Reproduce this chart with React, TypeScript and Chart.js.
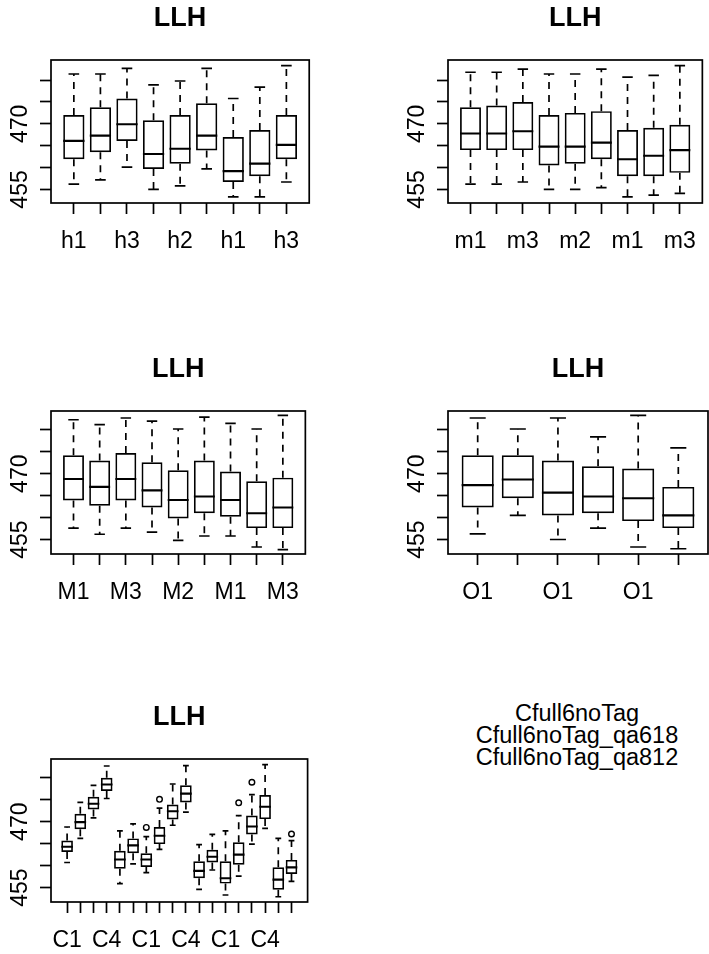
import React, { useEffect, useRef } from 'react';
import { Chart, registerables } from 'chart.js';

Chart.register(...registerables);

const FONT = "'Liberation Sans', Arial, Helvetica, sans-serif";

// ---------- Panel 1 : h ----------
const hLabels = ['h1', 'h2', 'h3', 'h1', 'h2', 'h3', 'h1', 'h2', 'h3'];
const hMax = [481.4, 481.4, 482.7, 478.9, 479.8, 482.7, 475.8, 478.4, 483.3];
const hQ3 = [472.0, 473.8, 475.8, 470.8, 472.0, 474.7, 467.0, 468.6, 472.0];
const hMed = [466.1, 467.3, 469.9, 463.1, 464.3, 467.3, 459.2, 460.9, 465.2];
const hQ1 = [461.9, 463.5, 466.1, 459.7, 460.9, 463.9, 456.7, 458.0, 461.9];
const hMin = [456.2, 457.2, 460.1, 455.0, 455.8, 459.7, 453.3, 453.3, 456.7];

// ---------- Panel 2 : m ----------
const mLabels = ['m1', 'm2', 'm3', 'm1', 'm2', 'm3', 'm1', 'm2', 'm3'];
const mMax = [481.8, 481.8, 482.5, 481.4, 481.4, 482.5, 480.7, 481.1, 483.3];
const mQ3 = [473.8, 474.2, 475.0, 472.0, 472.5, 472.9, 468.6, 469.1, 469.8];
const mMed = [467.8, 467.8, 468.3, 464.8, 464.8, 465.7, 461.9, 462.7, 464.0];
const mQ1 = [464.0, 464.0, 464.0, 460.5, 460.9, 461.9, 458.0, 458.0, 458.8];
const mMin = [456.2, 456.2, 456.7, 455.0, 455.0, 455.4, 453.3, 453.7, 454.1];

// ---------- Panel 3 : M ----------
const MLabels = ['M1', 'M2', 'M3', 'M1', 'M2', 'M3', 'M1', 'M2', 'M3'];
const MMax = [482.3, 481.2, 482.7, 482.0, 480.2, 482.9, 481.5, 480.2, 483.3];
const MQ3 = [474.2, 473.0, 474.7, 472.6, 470.8, 473.0, 470.5, 468.3, 469.1];
const MMed = [468.8, 467.0, 468.8, 466.2, 464.0, 464.8, 464.0, 461.0, 462.3];
const MQ1 = [463.9, 462.7, 463.9, 462.3, 459.8, 461.0, 460.2, 457.6, 457.6];
const MMin = [457.6, 456.2, 457.6, 456.7, 454.8, 455.8, 455.8, 453.3, 452.7];

// ---------- Panel 4 : O ----------
const OLabels = ['O1', 'O2', 'O1', 'O2', 'O1', 'O2'];
const OMax = [482.7, 480.2, 482.7, 478.4, 483.3, 475.9];
const OQ3 = [474.2, 474.2, 473.0, 471.7, 471.2, 467.0];
const OMed = [467.4, 468.7, 465.7, 464.8, 464.4, 460.5];
const OQ1 = [462.3, 464.4, 460.5, 461.0, 459.2, 457.6];
const OMin = [456.3, 460.5, 455.0, 457.6, 453.3, 452.9];

// ---------- Panel 5 : C ----------
const CLabels = [
  'C1', 'C2', 'C3', 'C4', 'C5', 'C6',
  'C1', 'C2', 'C3', 'C4', 'C5', 'C6',
  'C1', 'C2', 'C3', 'C4', 'C5', 'C6',
];
const CMax = [468.8, 474.4, 478.3, 482.7, 467.9, 469.5, 466.6, 473.1, 478.6, 482.8, 464.8, 467.1, 467.9, 471.4, 476.2, 483.0, 466.2, 465.7];
const CQ3 = [465.7, 471.8, 475.7, 480.0, 463.4, 466.2, 462.8, 468.8, 473.9, 478.3, 461.0, 463.6, 461.0, 465.3, 471.4, 476.1, 459.6, 461.3];
const CMed = [464.3, 469.9, 474.1, 478.5, 461.4, 464.6, 461.4, 466.8, 472.4, 476.4, 458.8, 462.0, 457.1, 462.5, 468.9, 473.4, 456.8, 459.6];
const CQ1 = [463.1, 468.3, 472.8, 477.0, 459.3, 462.8, 459.7, 464.9, 470.5, 474.4, 457.1, 460.7, 455.9, 460.2, 467.1, 470.6, 454.5, 458.1];
const CMin = [460.7, 466.2, 470.9, 475.3, 455.9, 460.4, 458.4, 463.7, 469.2, 472.2, 454.6, 459.0, 453.3, 457.6, 464.9, 468.5, 452.9, 456.4];
const COutX = [7, 8, 14, 15, 18];
const COutY = [468.7, 475.1, 474.3, 479.0, 467.2];

// ---------- axis ticks ----------
const yTicks = [455, 460, 465, 470, 475, 480];
const yTickLabels = ['455', '', '', '470', '', ''];

const TITLE = 'LLH';
const legendLines = ['Cfull6noTag', 'Cfull6noTag_qa618', 'Cfull6noTag_qa812'];

type Panel = {
  labels: string[];
  max: number[];
  q3: number[];
  med: number[];
  q1: number[];
  min: number[];
  outX: number[];
  outY: number[];
  yMin: number;
  yMax: number;
  step: number;
  wex: number;
  left: number;
  top: number;
};

const panels: Panel[] = [
  { labels: hLabels, max: hMax, q3: hQ3, med: hMed, q1: hQ1, min: hMin, outX: [], outY: [], yMin: 451.9, yMax: 484.6, step: 2, wex: 0.8, left: 0, top: 0 },
  { labels: mLabels, max: mMax, q3: mQ3, med: mMed, q1: mQ1, min: mMin, outX: [], outY: [], yMin: 451.9, yMax: 484.6, step: 2, wex: 0.8, left: 397, top: 0 },
  { labels: MLabels, max: MMax, q3: MQ3, med: MMed, q1: MQ1, min: MMin, outX: [], outY: [], yMin: 451.7, yMax: 484.3, step: 2, wex: 0.8, left: 0, top: 351 },
  { labels: OLabels, max: OMax, q3: OQ3, med: OMed, q1: OQ1, min: OMin, outX: [], outY: [], yMin: 451.7, yMax: 484.3, step: 2, wex: 0.8, left: 397, top: 351 },
  { labels: CLabels, max: CMax, q3: CQ3, med: CMed, q1: CQ1, min: CMin, outX: COutX, outY: COutY, yMin: 451.7, yMax: 484.3, step: 3, wex: 0.88, left: 0, top: 699 },
];

const CW = 313;
const CH = 260;
const LW = 1.7;

const framePlugin = {
  id: 'rframe',
  afterDraw(chart: any) {
    const { ctx, chartArea: a } = chart;
    ctx.save();
    ctx.strokeStyle = '#000';
    ctx.lineWidth = LW;
    ctx.strokeRect(a.left, a.top, a.right - a.left, a.bottom - a.top);
    ctx.restore();
  },
};

function buildConfig(p: Panel): any {
  const n = p.labels.length;
  const pos = p.labels.map((_, i) => i + 1);
  const ext = n * 0.04;
  const half = p.wex / 2;
  const staple = p.wex / 4;

  const boxes = pos.map((x, i) => ({ x, y: [p.q1[i], p.q3[i]] }));
  const whiskers: any[] = [];
  const staples: any[] = [];
  const medians: any[] = [];
  pos.forEach((x, i) => {
    whiskers.push({ x, y: p.q3[i] }, { x, y: p.max[i] }, { x, y: null });
    whiskers.push({ x, y: p.q1[i] }, { x, y: p.min[i] }, { x, y: null });
    staples.push({ x: x - staple, y: p.max[i] }, { x: x + staple, y: p.max[i] }, { x, y: null });
    staples.push({ x: x - staple, y: p.min[i] }, { x: x + staple, y: p.min[i] }, { x, y: null });
    medians.push({ x: x - half, y: p.med[i] }, { x: x + half, y: p.med[i] }, { x, y: null });
  });
  const outliers = p.outX.map((x, i) => ({ x, y: p.outY[i] }));

  const tickFont = { family: FONT, size: 23 };

  return {
    type: 'bar',
    data: {
      datasets: [
        {
          type: 'bar',
          data: boxes,
          backgroundColor: 'rgba(255,255,255,0)',
          borderColor: '#000',
          borderWidth: LW,
          borderSkipped: false,
          barPercentage: p.wex,
          categoryPercentage: 1,
        },
        {
          type: 'line',
          data: whiskers,
          borderColor: '#000',
          borderWidth: LW,
          borderDash: [7, 6],
          pointRadius: 0,
          spanGaps: false,
          fill: false,
        },
        {
          type: 'line',
          data: staples,
          borderColor: '#000',
          borderWidth: LW,
          pointRadius: 0,
          spanGaps: false,
          fill: false,
        },
        {
          type: 'line',
          data: medians,
          borderColor: '#000',
          borderWidth: 2.1,
          pointRadius: 0,
          spanGaps: false,
          fill: false,
        },
        {
          type: 'scatter',
          data: outliers,
          pointStyle: 'circle',
          pointRadius: 2.8,
          borderColor: '#000',
          borderWidth: 1.4,
          backgroundColor: 'rgba(255,255,255,0)',
          showLine: false,
        },
      ],
    },
    options: {
      animation: false,
      responsive: false,
      events: [],
      layout: { padding: { left: 0, right: 2, top: 0, bottom: 0 } },
      plugins: {
        legend: { display: false },
        tooltip: { enabled: false },
        title: {
          display: true,
          text: TITLE,
          fullSize: false,
          color: '#000',
          font: { family: FONT, size: 27, weight: 'bold', lineHeight: 1.2 },
          padding: { top: 2, bottom: 25.6 },
        },
      },
      scales: {
        x: {
          type: 'linear',
          min: 0.5 - ext,
          max: n + 0.5 + ext,
          bounds: 'data',
          offset: false,
          afterBuildTicks: (s: any) => {
            s.ticks = pos.map((v) => ({ value: v }));
          },
          afterFit: (s: any) => {
            s.height = CH - 203;
          },
          grid: {
            display: true,
            drawOnChartArea: false,
            drawTicks: true,
            tickLength: 11,
            tickWidth: LW,
            tickColor: '#000',
            offset: false,
          },
          border: { display: false },
          ticks: {
            autoSkip: false,
            minRotation: 0,
            maxRotation: 0,
            padding: 13.5,
            color: '#000',
            font: tickFont,
            callback: (_v: any, i: number) => (i % p.step === 0 ? p.labels[i] : ''),
          },
        },
        y: {
          type: 'linear',
          min: p.yMin,
          max: p.yMax,
          bounds: 'data',
          afterBuildTicks: (s: any) => {
            s.ticks = yTicks.map((v) => ({ value: v }));
          },
          afterFit: (s: any) => {
            s.width = 51;
          },
          grid: {
            display: true,
            drawOnChartArea: false,
            drawTicks: true,
            tickLength: 11,
            tickWidth: LW,
            tickColor: '#000',
          },
          border: { display: false },
          ticks: {
            autoSkip: false,
            minRotation: 90,
            maxRotation: 90,
            crossAlign: 'center',
            padding: 0,
            color: '#000',
            font: tickFont,
            callback: (v: any) => {
              const k = yTicks.indexOf(Number(v));
              return k >= 0 ? yTickLabels[k] : '';
            },
          },
        },
      },
    },
    plugins: [framePlugin],
  };
}

function BoxPanel({ p }: { p: Panel }) {
  const ref = useRef<HTMLCanvasElement | null>(null);
  useEffect(() => {
    if (!ref.current) return;
    const chart = new Chart(ref.current, buildConfig(p));
    return () => chart.destroy();
  }, [p]);
  return (
    <canvas
      ref={ref}
      width={CW}
      height={CH}
      style={{ position: 'absolute', left: p.left, top: p.top, width: CW, height: CH }}
    />
  );
}

export default function App() {
  return (
    <div
      style={{
        position: 'absolute',
        left: 0,
        top: 0,
        width: 709,
        height: 954,
        background: '#fff',
        overflow: 'hidden',
      }}
    >
      {panels.map((p, i) => (
        <BoxPanel key={i} p={p} />
      ))}
      <div
        style={{
          position: 'absolute',
          left: 397,
          width: 360,
          top: 703,
          textAlign: 'center',
          fontFamily: FONT,
          fontSize: 23.5,
          lineHeight: '21.8px',
          color: '#000',
        }}
      >
        {legendLines.map((t, i) => (
          <div key={i}>{t}</div>
        ))}
      </div>
    </div>
  );
}
